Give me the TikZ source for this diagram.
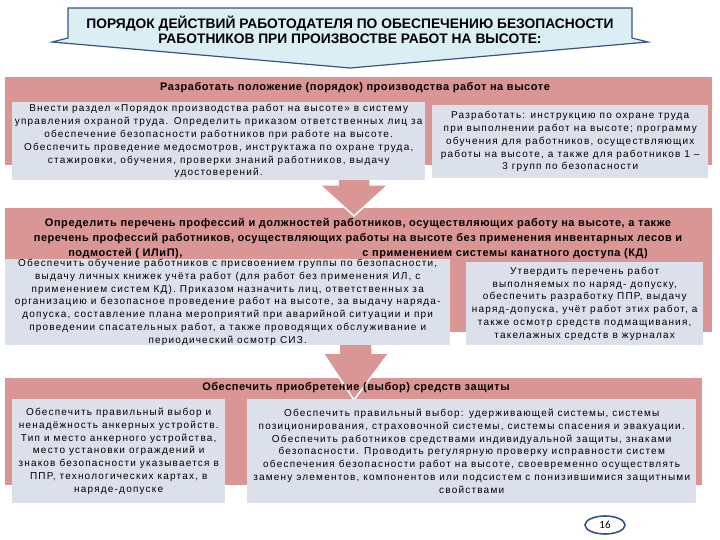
\documentclass[tikz,border=0pt]{standalone}
\usepackage{fontspec}
\setmainfont{Liberation Sans}
\newfontfamily\boxfont[LetterSpace=12]{Liberation Sans}
\newfontfamily\headfont[LetterSpace=5]{Liberation Sans}
\newfontfamily\numfont{Carlito}
\usetikzlibrary{positioning}
\usetikzlibrary{shapes.geometric}
\definecolor{bandpink}{RGB}{217,150,148}
\definecolor{boxgrey}{RGB}{220,224,235}
\definecolor{calloutblue}{RGB}{219,238,244}
\definecolor{calloutline}{RGB}{55,85,125}

\begin{document}
\begin{tikzpicture}[x=1pt,y=-1pt,
    band/.style={fill=bandpink, inner sep=0pt, anchor=north west},
    infobox/.style={fill=boxgrey, inner sep=0pt, anchor=north west, align=center, font=\boxfont\fontsize{10}{12.8}\selectfont},
    bandtitle/.style={font=\headfont\bfseries\fontsize{11}{15}\selectfont, align=center, inner sep=0pt},
    downarrow/.style={fill=bandpink, draw=white, line width=1.5pt}]
    \useasboundingbox (0,0) rectangle (720,540);
    % Title callout
    \filldraw[fill=calloutblue, draw=calloutline, line width=1.2pt] (68,8) -- (632,8) -- (632,38) -- (648,42) -- (350,68) -- (52,42) -- (68,38) -- cycle;
    \node[font=\bfseries\fontsize{13.8}{15.5}\selectfont, align=center] (title) at (350,30) {ПОРЯДОК  ДЕЙСТВИЙ РАБОТОДАТЕЛЯ ПО ОБЕСПЕЧЕНИЮ БЕЗОПАСНОСТИ\\РАБОТНИКОВ ПРИ ПРОИЗВОСТВЕ РАБОТ НА ВЫСОТЕ:};

    % Pink bands
    \node[band, minimum width=707pt, minimum height=88pt] (bandA) at (5,77) {};
    \node[band, minimum width=707pt, minimum height=124pt] (bandB) at (5,208) {};
    \node[band, minimum width=697pt, minimum height=107pt] (bandC) at (5,378) {};

    % Arrows between bands
    \filldraw[downarrow] (338,160) -- (370,160) -- (370,185) -- (388,185) -- (354,216) -- (320,185) -- (338,185) -- cycle;
    \filldraw[downarrow] (339,330) -- (372,330) -- (372,353) -- (389,353) -- (354,400) -- (323,353) -- (339,353) -- cycle;

    % Band titles
    \node[bandtitle] (titleA) at (355,88) {Разработать положение (порядок) производства работ на высоте};
    \node[bandtitle] (titleB) at (358,239) {Определить перечень профессий и должностей работников,   осуществляющих работу на высоте, а также\\перечень профессий работников, осуществляющих  работы на высоте без применения инвентарных лесов  и\\подмостей ( ИЛиП),\hspace{180pt}с применением системы канатного доступа (КД)};
    \node[bandtitle] (titleC) at (356,388) {Обеспечить  приобретение  (выбор)  средств  защиты};

    % Band A boxes
    \node[infobox, minimum width=413pt, minimum height=78pt] (boxA1) at (12,102) {Внести раздел «Порядок производства работ на высоте» в систему\\управления охраной труда. Определить приказом ответственных лиц за\\обеспечение безопасности работников при работе на высоте.\\Обеспечить проведение медосмотров, инструктажа по охране труда,\\стажировки, обучения, проверки знаний работников, выдачу\\удостоверений.};
    \node[infobox, minimum width=276pt, minimum height=73pt] (boxA2) at (432,105) {Разработать:  инструкцию по охране труда\\при выполнении работ на высоте; программу\\обучения для работников, осуществляющих\\работы на высоте, а также для работников 1 –\\3 групп по безопасности};

    % Band B boxes
    \node[infobox, minimum width=445pt, minimum height=84pt] (boxB1) at (5,259) {Обеспечить обучение работников с присвоением группы по безопасности,\\выдачу личных книжек учёта работ (для работ без применения ИЛ, с\\применением систем КД). Приказом  назначить лиц, ответственных за\\организацию и безопасное проведение работ на высоте, за выдачу наряда-\\допуска, составление плана мероприятий при аварийной ситуации и при\\проведении спасательных работ, а также проводящих обслуживание и\\периодический осмотр СИЗ.};
    \node[infobox, minimum width=237pt, minimum height=83pt] (boxB2) at (466,262) {Утвердить перечень работ\\выполняемых по наряд- допуску,\\обеспечить разработку ППР, выдачу\\наряд-допуска, учёт работ этих работ, а\\также  осмотр средств подмащивания,\\такелажных средств в журналах};

    % Band C boxes
    \node[infobox, minimum width=213pt, minimum height=104pt] (boxC1) at (12,399) {Обеспечить правильный выбор и\\ненадёжность анкерных устройств.\\Тип и место анкерного устройства,\\место установки ограждений и\\знаков безопасности  указывается в\\ППР, технологических картах, в\\наряде-допуске};
    \node[infobox, minimum width=449pt, minimum height=104pt] (boxC2) at (247,399) {Обеспечить правильный выбор: удерживающей системы, системы\\позиционирования,  страховочной системы, системы спасения и эвакуации.\\Обеспечить работников средствами индивидуальной защиты, знаками\\безопасности. Проводить регулярную проверку исправности систем\\обеспечения безопасности работ на высоте, своевременно осуществлять\\замену элементов, компонентов или подсистем с понизившимися защитными\\свойствами};

    % Page number
    \node[draw=calloutline, line width=1.6pt, ellipse, minimum width=40pt, minimum height=18pt, inner sep=1pt, font=\numfont\fontsize{11}{13}\selectfont] (pagenum) at (605,525) {16};
\end{tikzpicture}
\end{document}
